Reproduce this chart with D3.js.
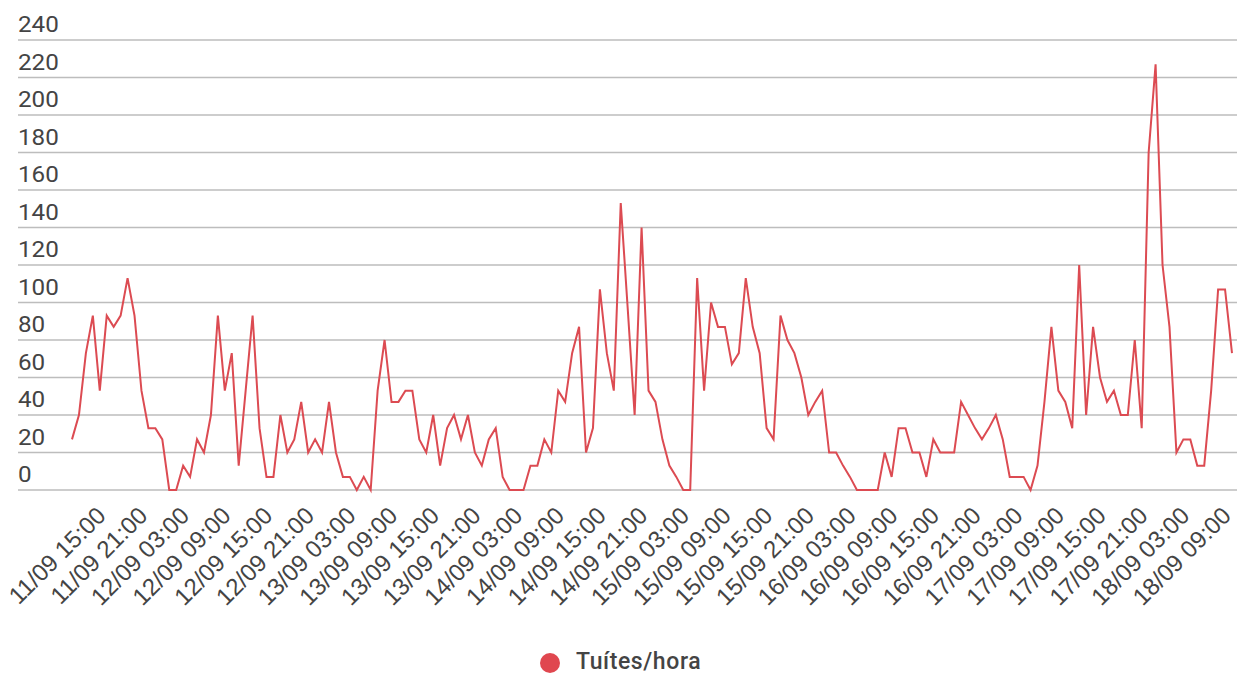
<!DOCTYPE html>
<html>
<head>
<meta charset="utf-8">
<script src="https://cdn.jsdelivr.net/npm/d3@7"></script>
<style>
  body { margin: 0; background: #fff; }
  svg { font-family: Roboto, "Noto Sans", sans-serif; }
  .grid line { stroke: #bdbdbd; stroke-width: 1.5; }
  .ylab { fill: #444; font-size: 22px; }
  .xlab { fill: #444; font-size: 24px; }
  .line { fill: none; stroke: #dc4b52; stroke-width: 2; stroke-linejoin: miter; }
</style>
</head>
<body>
<script>
// Chart size
var width = 1237,
    height = 676;

// Hourly series, first point 11/09 10:00, last point 18/09 09:00
var startHour = "2019-09-11T10:00:00";
var tweetsPerHour = [
  27, 40, 73, 93, 53, 93, 87, 93, 113, 93,
  53, 33, 33, 27, 0, 0, 13, 7, 27, 20,
  40, 93, 53, 73, 13, 53, 93, 33, 7, 7,
  40, 20, 27, 47, 20, 27, 20, 47, 20, 7,
  7, 0, 7, 0, 53, 80, 47, 47, 53, 53,
  27, 20, 40, 13, 33, 40, 27, 40, 20, 13,
  27, 33, 7, 0, 0, 0, 13, 13, 27, 20,
  53, 47, 73, 87, 20, 33, 107, 73, 53, 153,
  97, 40, 140, 53, 47, 27, 13, 7, 0, 0,
  113, 53, 100, 87, 87, 67, 73, 113, 87, 73,
  33, 27, 93, 80, 73, 60, 40, 47, 53, 20,
  20, 13, 7, 0, 0, 0, 0, 20, 7, 33,
  33, 20, 20, 7, 27, 20, 20, 20, 47, 40,
  33, 27, 33, 40, 27, 7, 7, 7, 0, 13,
  47, 87, 53, 47, 33, 120, 40, 87, 60, 47,
  53, 40, 40, 80, 33, 180, 227, 120, 87, 20,
  27, 27, 13, 13, 53, 107, 107, 73
];

// Axis labels
var yTicks = [0, 20, 40, 60, 80, 100, 120, 140, 160, 180, 200, 220, 240];
var seriesName = "Tuítes/hora";

var parse = d3.timeParse("%Y-%m-%dT%H:%M:%S");
var t0 = parse(startHour);
var hours = d3.timeHour.range(t0, d3.timeHour.offset(t0, tweetsPerHour.length));
var data = hours.map(function (d, i) { return { date: d, value: tweetsPerHour[i] }; });

var x = d3.scaleTime()
    .domain(d3.extent(hours))
    .range([72, 1232]);

var y = d3.scaleLinear()
    .domain([0, 240])
    .range([490, 40]);

var svg = d3.select("body")
    .append("svg")
    .attr("width", width)
    .attr("height", height);

// Gridlines with labels sitting above them
var grid = svg.append("g").attr("class", "grid");
grid.selectAll("line")
    .data(yTicks)
    .enter()
    .append("line")
    .attr("x1", 18)
    .attr("x2", width)
    .attr("y1", function (d) { return y(d); })
    .attr("y2", function (d) { return y(d); });

svg.append("g")
    .selectAll("text")
    .data(yTicks)
    .enter()
    .append("text")
    .attr("class", "ylab")
    .attr("transform", function (d) { return "translate(18," + (y(d) - 8) + ") scale(1.1,1)"; })
    .text(function (d) { return d; });

// X labels every 6 hours, slanted
var xTicks = hours.filter(function (d) { return d.getHours() % 6 === 3; });
var fmt = d3.timeFormat("%d/%m %H:%M");

var xAxis = d3.axisBottom(x)
    .tickValues(xTicks)
    .tickFormat(fmt)
    .tickSize(0);

var gx = svg.append("g")
    .attr("transform", "translate(0,490)")
    .call(xAxis);
gx.select(".domain").remove();
gx.selectAll("text")
    .attr("class", "xlab")
    .attr("font-family", null)
    .attr("font-size", null)
    .attr("fill", null)
    .attr("text-anchor", "end")
    .attr("transform", "translate(0,27) rotate(-45)")
    .attr("dy", 0)
    .attr("y", 0);

// The series line
var line = d3.line()
    .x(function (d) { return x(d.date); })
    .y(function (d) { return y(d.value); });

svg.append("path")
    .datum(data)
    .attr("class", "line")
    .attr("d", line);

// Legend
var legend = svg.append("g").attr("transform", "translate(550,663)");
legend.append("circle")
    .attr("r", 10)
    .attr("fill", "#e0474f");
legend.append("text")
    .attr("x", 26)
    .attr("y", 6)
    .attr("fill", "#444")
    .attr("font-size", "23px")
    .attr("font-weight", 500)
    .attr("letter-spacing", "0.6px")
    .text(seriesName);
</script>
</body>
</html>
